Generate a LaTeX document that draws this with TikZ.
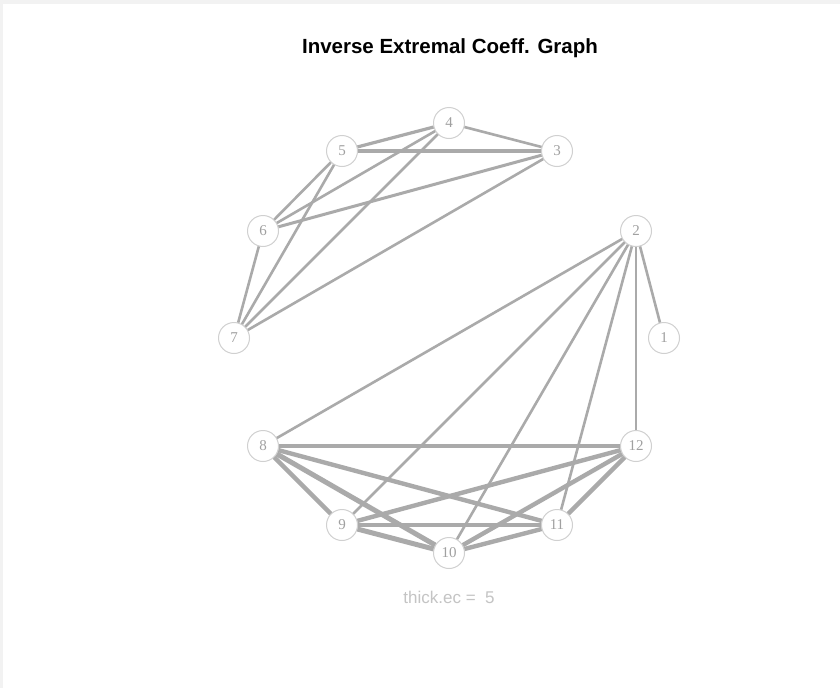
\documentclass[tikz,border=0pt]{standalone}
\usepackage{fontspec}
\setmainfont{Liberation Serif}
\newfontfamily\headfont{Liberation Sans}
\usetikzlibrary{positioning}
\definecolor{edgegray}{HTML}{AAAAAA}
\definecolor{rimgray}{HTML}{D0D0D0}
\definecolor{labgray}{HTML}{A0A0A0}
\definecolor{capgray}{HTML}{C4C4C4}
\definecolor{framegray}{HTML}{F2F2F2}

\begin{document}
\begin{tikzpicture}[x=1pt,y=-1pt]

\tikzstyle{vtx}=[circle, draw=rimgray, fill=white, line width=1pt, minimum size=31pt, inner sep=0pt, text=labgray, font=\fontsize{15}{15}\selectfont]
\tikzstyle{ec}=[draw=edgegray, line width=2.6pt]
\tikzstyle{ecthick}=[draw=edgegray, line width=4.4pt]

% frame
\fill[framegray] (0,0) rectangle (840,688);
\fill[white] (3,4) rectangle (840,688);
\useasboundingbox (0,0) rectangle (840,688);

% title
\node(title)[font=\headfont\bfseries\fontsize{20.5}{20.5}\selectfont] at (450,48) {Inverse Extremal Coeff. Graph};

% vertices
\node(v1)[vtx] at (664,338) {1};
\node(v2)[vtx] at (636,231) {2};
\node(v3)[vtx] at (557,151) {3};
\node(v4)[vtx] at (449,123) {4};
\node(v5)[vtx] at (342,151) {5};
\node(v6)[vtx] at (263,231) {6};
\node(v7)[vtx] at (234,338) {7};
\node(v8)[vtx] at (263,446) {8};
\node(v9)[vtx] at (342,525) {9};
\node(v10)[vtx] at (449,553) {10};
\node(v11)[vtx] at (557,525) {11};
\node(v12)[vtx] at (636,446) {12};

% top group
\path[ec, line width=3.2pt] (v4) -- (v5);
\path[ec, line width=3.2pt] (v5) -- (v3);
\path[ec] (v4) -- (v3);
\path[ec] (v5) -- (v6);
\path[ec] (v4) -- (v6);
\path[ec, line width=3pt] (v3) -- (v6);
\path[ec] (v6) -- (v7);
\path[ec] (v5) -- (v7);
\path[ec] (v4) -- (v7);
\path[ec] (v3) -- (v7);

% edges from 2
\foreach \t in {1,8,9,10,11,12}
  \path[ec] (v2) -- (v\t);

% bottom group
\path[ecthick] (v8) -- (v12);
\path[ecthick] (v8) -- (v9);
\path[ecthick, line width=5pt] (v8) -- (v10);
\path[ecthick] (v8) -- (v11);
\path[ecthick] (v12) -- (v9);
\path[ecthick] (v12) -- (v10);
\path[ecthick] (v12) -- (v11);
\path[ecthick] (v9) -- (v11);
\path[ecthick, line width=5pt] (v9) -- (v10);
\path[ecthick] (v10) -- (v11);

% caption
\node(cap)[text=capgray, font=\headfont\fontsize{17}{17}\selectfont] at (449,597) {thick.ec =\ \ 5};

\end{tikzpicture}
\end{document}
